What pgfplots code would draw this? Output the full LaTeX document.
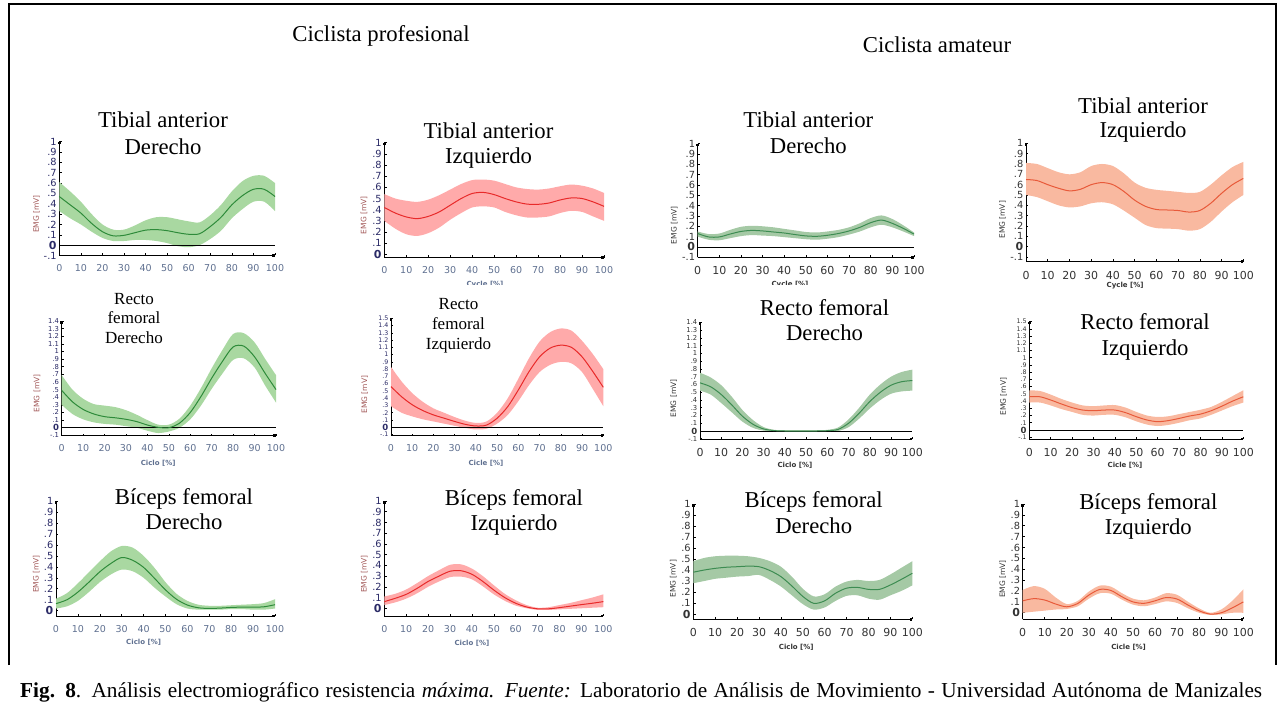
\documentclass[border=0pt]{standalone}
\usepackage{fontspec}
\setmainfont{Liberation Serif}
\newfontfamily\tickfont{DejaVu Sans}
\usepackage{pgfplots}
\pgfplotsset{compat=1.18}
\usepackage{pgfplotstable}
\usepgfplotslibrary{fillbetween}
\usetikzlibrary{arrows.meta}

\definecolor{gband}{HTML}{A9D8A1}
\definecolor{gline}{HTML}{2E8B3A}
\definecolor{agband}{HTML}{A5C9A5}
\definecolor{agline}{HTML}{3D8C52}
\definecolor{rband}{HTML}{FFAAAA}
\definecolor{rline}{HTML}{E82A2A}
\definecolor{arband}{HTML}{F9B9A0}
\definecolor{arline}{HTML}{E85A3A}
\definecolor{proxt}{HTML}{5F7090}
\definecolor{proyt}{HTML}{2A2A66}
\definecolor{proyl}{HTML}{A05555}
\definecolor{amat}{HTML}{333333}

\newcommand\zero{{\fontsize{11}{11}\selectfont\bfseries 0}}
\newcommand\zeros{{\fontsize{8.5}{8.5}\selectfont\bfseries 0}}
\newcommand\ttl{\fontsize{22.7}{26}\selectfont}
\newcommand\ttls{\fontsize{17}{20}\selectfont}

\pgfplotsset{
  emg/.style={
    scale only axis, anchor=south west, clip=false,
    axis lines=left,
    axis line style={line width=0.9pt,-{Square[length=2.6pt,width=2.6pt]}},
    xmin=0, xmax=100, xtick={0,10,...,100},
    tick align=inside, major tick length=2.2pt,
    every tick/.style={black, line width=0.6pt},
    /pgf/number format/assume math mode=true,
    xticklabel style={anchor=north, inner sep=0pt, yshift=-9pt},
    yticklabel style={anchor=east, inner sep=0pt, xshift=-2.5pt},
  },
  pro/.style={emg,
    xticklabel style={font=\tickfont\fontsize{9.5}{9.5}\selectfont, text=proxt},
    yticklabel style={font=\tickfont\fontsize{9.8}{9.8}\selectfont, text=proyt}},
  ama/.style={emg,
    xticklabel style={font=\tickfont\fontsize{11}{11}\selectfont, text=amat},
    yticklabel style={font=\tickfont\fontsize{9.8}{9.8}\selectfont, text=amat}},
  yA/.style={ytick={-0.1,0,0.1,0.2,0.3,0.4,0.5,0.6,0.7,0.8,0.9,1},
    yticklabels={-.1,\zero,.1,.2,.3,.4,.5,.6,.7,.8,.9,1}},
  yB/.style={ytick={0,0.1,0.2,0.3,0.4,0.5,0.6,0.7,0.8,0.9,1},
    yticklabels={\zero,.1,.2,.3,.4,.5,.6,.7,.8,.9,1}},
  % dense scales of the rectus femoris panels: smaller labels
  yC/.style={ytick={-0.1,0,0.1,0.2,0.3,0.4,0.5,0.6,0.7,0.8,0.9,1,1.1,1.2,1.3,1.4},
    yticklabels={-.1,\zeros,.1,.2,.3,.4,.5,.6,.7,.8,.9,1,1.1,1.2,1.3,1.4},
    yticklabel style={font=\tickfont\fontsize{6.8}{6.8}\selectfont}},
  yD/.style={ytick={-0.1,0,0.1,0.2,0.3,0.4,0.5,0.6,0.7,0.8,0.9,1,1.1,1.2,1.3,1.4,1.5},
    yticklabels={-.1,\zeros,.1,.2,.3,.4,.5,.6,.7,.8,.9,1,1.1,1.2,1.3,1.4,1.5},
    yticklabel style={font=\tickfont\fontsize{6.3}{6.3}\selectfont}},
}

% band (lo..hi) and mean curve of one muscle
\newcommand\emgband[3]{%
  \addplot[draw=none, smooth, name path=#1hi] table[x=x,y=hi]{#2};
  \addplot[draw=none, smooth, name path=#1lo] table[x=x,y=lo]{#2};
  \addplot[fill=#3, draw=none] fill between[of=#1hi and #1lo];}
\newcommand\emgmean[2]{\addplot[#2, line width=1pt, smooth] table[x=x,y=m]{#1};}
\newcommand\zeroline{\draw[black, line width=0.8pt] (axis cs:0,0) -- (axis cs:100,0);}
\newcommand\prolabel[2]{\node[rotate=90, font=\tickfont\fontsize{7.5}{7.5}\selectfont, text=proyl] at (axis cs:#1,#2) {EMG [mV]};}
\newcommand\amalabel[2]{\node[rotate=90, font=\tickfont\fontsize{7.5}{7.5}\selectfont, text=amat] at (axis cs:#1,#2) {EMG [mV]};}
\newcommand\proxl[3]{\node[font=\tickfont\bfseries\fontsize{7}{7}\selectfont, text=proxt] at (axis cs:#1,#2) {#3};}
\newcommand\amaxl[3]{\node[font=\tickfont\bfseries\fontsize{7}{7}\selectfont, text=amat] at (axis cs:#1,#2) {#3};}

% ---------- professional cyclist ----------
\pgfplotstableread{
x m lo hi
0 0.47 0.33 0.61
5 0.39 0.26 0.52
10 0.31 0.20 0.42
15 0.21 0.13 0.30
20 0.13 0.07 0.20
25 0.09 0.04 0.15
30 0.095 0.04 0.15
35 0.12 0.05 0.19
40 0.145 0.05 0.24
45 0.15 0.04 0.27
50 0.14 0.02 0.27
55 0.12 -0.01 0.25
60 0.105 -0.02 0.23
65 0.11 0.0 0.22
70 0.18 0.06 0.29
75 0.27 0.14 0.39
80 0.39 0.26 0.52
85 0.48 0.35 0.62
90 0.54 0.42 0.67
95 0.54 0.42 0.67
100 0.47 0.33 0.60
}\tPa
\pgfplotstableread{
x m lo hi
0 0.42 0.30 0.54
5 0.37 0.23 0.50
10 0.335 0.18 0.48
15 0.32 0.165 0.47
20 0.34 0.19 0.49
25 0.38 0.24 0.53
30 0.44 0.31 0.58
35 0.50 0.37 0.63
40 0.545 0.42 0.665
45 0.555 0.43 0.67
50 0.535 0.42 0.66
55 0.50 0.38 0.63
60 0.47 0.35 0.60
65 0.45 0.33 0.585
70 0.448 0.33 0.58
75 0.46 0.34 0.59
80 0.487 0.37 0.61
85 0.505 0.39 0.625
90 0.50 0.38 0.615
95 0.47 0.34 0.59
100 0.43 0.30 0.55
}\tPb
\pgfplotstableread{
x m lo hi
0 0.49 0.30 0.69
5 0.34 0.18 0.50
10 0.24 0.11 0.38
15 0.18 0.07 0.31
20 0.145 0.05 0.29
25 0.13 0.04 0.27
30 0.11 0.02 0.23
35 0.08 0.0 0.17
40 0.035 -0.04 0.10
45 0.005 -0.07 0.04
50 0.0 -0.05 0.04
55 0.06 0.0 0.12
60 0.20 0.11 0.29
65 0.41 0.29 0.52
70 0.65 0.51 0.78
75 0.87 0.71 1.02
80 1.06 0.89 1.23
85 1.07 0.91 1.24
90 0.93 0.79 1.12
95 0.71 0.55 0.90
100 0.50 0.33 0.69
}\tPc
\pgfplotstableread{
x m lo hi
0 0.56 0.29 0.83
5 0.42 0.20 0.63
10 0.31 0.15 0.47
15 0.23 0.11 0.35
20 0.17 0.08 0.26
25 0.125 0.05 0.20
30 0.08 0.02 0.14
35 0.04 -0.01 0.09
40 0.018 -0.03 0.06
45 0.03 -0.02 0.08
50 0.125 0.05 0.20
55 0.285 0.17 0.40
60 0.515 0.36 0.67
65 0.765 0.58 0.95
70 0.97 0.76 1.18
75 1.09 0.86 1.31
80 1.13 0.90 1.36
85 1.10 0.88 1.33
90 0.97 0.76 1.19
95 0.77 0.53 1.01
100 0.55 0.29 0.80
}\tPd
\pgfplotstableread{
x m lo hi
0 0.065 0.02 0.11
5 0.10 0.04 0.16
10 0.17 0.09 0.25
15 0.26 0.17 0.35
20 0.355 0.26 0.45
25 0.43 0.33 0.54
30 0.485 0.375 0.59
35 0.46 0.36 0.575
40 0.395 0.30 0.50
45 0.295 0.21 0.39
50 0.19 0.13 0.26
55 0.105 0.06 0.155
60 0.052 0.02 0.09
65 0.027 0.01 0.055
70 0.021 0.01 0.045
75 0.024 0.01 0.045
80 0.03 0.015 0.05
85 0.033 0.015 0.055
90 0.033 0.01 0.06
95 0.036 0.01 0.07
100 0.055 0.02 0.105
}\tPe
\pgfplotstableread{
x m lo hi
0 0.062 0.03 0.11
5 0.093 0.055 0.135
10 0.13 0.09 0.175
15 0.186 0.14 0.235
20 0.25 0.20 0.30
25 0.30 0.25 0.355
30 0.345 0.29 0.405
35 0.35 0.295 0.41
40 0.317 0.27 0.37
45 0.25 0.205 0.30
50 0.17 0.13 0.215
55 0.10 0.07 0.135
60 0.047 0.025 0.075
65 0.012 0.0 0.03
70 -0.005 -0.015 0.005
75 -0.005 -0.015 0.01
80 0.006 -0.01 0.03
85 0.02 -0.005 0.05
90 0.034 0.0 0.075
95 0.047 0.005 0.10
100 0.062 0.01 0.13
}\tPf

% ---------- amateur cyclist ----------
\pgfplotstableread{
x m lo hi
0 0.13 0.10 0.15
5 0.097 0.07 0.125
10 0.097 0.065 0.13
15 0.125 0.085 0.165
20 0.15 0.105 0.195
25 0.16 0.115 0.205
30 0.155 0.11 0.20
35 0.145 0.105 0.19
40 0.135 0.095 0.175
45 0.12 0.085 0.16
50 0.107 0.075 0.145
55 0.103 0.07 0.14
60 0.113 0.08 0.15
65 0.13 0.095 0.165
70 0.155 0.12 0.19
75 0.19 0.15 0.23
80 0.235 0.19 0.28
85 0.26 0.215 0.305
90 0.228 0.19 0.27
95 0.18 0.15 0.21
100 0.125 0.105 0.14
}\tAa
\pgfplotstableread{
x m lo hi
0 0.65 0.50 0.81
5 0.64 0.48 0.80
10 0.60 0.44 0.76
15 0.565 0.40 0.72
20 0.54 0.38 0.70
25 0.555 0.39 0.72
30 0.60 0.42 0.78
35 0.62 0.43 0.80
40 0.60 0.41 0.78
45 0.535 0.35 0.71
50 0.45 0.28 0.62
55 0.39 0.21 0.57
60 0.36 0.18 0.55
65 0.355 0.175 0.54
70 0.35 0.17 0.53
75 0.335 0.155 0.52
80 0.35 0.17 0.53
85 0.42 0.24 0.60
90 0.516 0.34 0.69
95 0.60 0.43 0.77
100 0.66 0.50 0.82
}\tAb
\pgfplotstableread{
x m lo hi
0 0.62 0.52 0.75
5 0.57 0.47 0.69
10 0.47 0.36 0.59
15 0.335 0.24 0.44
20 0.19 0.12 0.27
25 0.086 0.04 0.14
30 0.026 0.005 0.05
35 0.005 -0.005 0.015
40 0.0 -0.01 0.01
45 0.0 -0.01 0.01
50 0.0 -0.01 0.01
55 0.0 -0.01 0.01
60 0.004 -0.006 0.015
65 0.02 0.0 0.045
70 0.10 0.05 0.15
75 0.23 0.16 0.30
80 0.38 0.29 0.47
85 0.50 0.40 0.60
90 0.59 0.48 0.70
95 0.635 0.51 0.76
100 0.65 0.52 0.79
}\tAc
\pgfplotstableread{
x m lo hi
0 0.46 0.38 0.55
5 0.46 0.38 0.54
10 0.415 0.34 0.49
15 0.36 0.29 0.43
20 0.31 0.25 0.38
25 0.276 0.21 0.34
30 0.267 0.20 0.33
35 0.276 0.21 0.34
40 0.276 0.21 0.345
45 0.24 0.175 0.31
50 0.184 0.12 0.25
55 0.138 0.075 0.20
60 0.115 0.055 0.18
65 0.13 0.07 0.19
70 0.16 0.10 0.22
75 0.194 0.135 0.25
80 0.22 0.16 0.28
85 0.267 0.21 0.32
90 0.33 0.27 0.39
95 0.40 0.33 0.47
100 0.46 0.38 0.55
}\tAd
\pgfplotstableread{
x m lo hi
0 0.38 0.28 0.48
5 0.40 0.30 0.51
10 0.415 0.32 0.525
15 0.425 0.33 0.53
20 0.43 0.34 0.53
25 0.435 0.345 0.525
30 0.43 0.355 0.51
35 0.395 0.31 0.48
40 0.34 0.25 0.43
45 0.255 0.17 0.34
50 0.16 0.09 0.23
55 0.097 0.04 0.16
60 0.12 0.06 0.18
65 0.19 0.12 0.25
70 0.235 0.165 0.295
75 0.242 0.17 0.31
80 0.224 0.14 0.30
85 0.224 0.13 0.31
90 0.264 0.17 0.36
95 0.315 0.21 0.42
100 0.37 0.26 0.48
}\tAe
\pgfplotstableread{
x m lo hi
0 0.11 0.0 0.21
5 0.13 0.01 0.245
10 0.117 0.02 0.22
15 0.08 0.03 0.14
20 0.055 0.035 0.08
25 0.086 0.06 0.11
30 0.163 0.13 0.195
35 0.215 0.18 0.25
40 0.205 0.175 0.24
45 0.147 0.12 0.18
50 0.10 0.075 0.13
55 0.087 0.06 0.115
60 0.11 0.08 0.14
65 0.14 0.105 0.18
70 0.126 0.09 0.165
75 0.07 0.04 0.10
80 0.018 0.0 0.04
85 -0.012 -0.02 0.0
90 0.0 -0.015 0.03
95 0.045 0.0 0.11
100 0.10 0.0 0.215
}\tAf

\begin{document}
\begin{tikzpicture}
% page extent
\path (0pt,0pt) rectangle (1279pt,705pt);
% frame around the panels (open at the bottom)
\draw[line width=1.6pt] (9pt,40pt) -- (9pt,701pt) -- (1276pt,701pt) -- (1276pt,40pt);

% column headers
\node[anchor=base, font=\ttl] at (381pt,663pt) {Ciclista profesional};
\node[anchor=base, font=\ttl] at (937pt,652pt) {Ciclista amateur};

% ===== row 1: Tibial anterior =====
\begin{axis}[pro, yA, at={(59.3pt,449.5pt)}, width=215.7pt, height=113.8pt, ymin=-0.1, ymax=1]
  \emgband{pa}{\tPa}{gband}
  \zeroline
  \emgmean{\tPa}{gline}
  \prolabel{-10.6}{0.30}
\end{axis}
\begin{axis}[pro, yB, at={(384.3pt,447.3pt)}, width=219.7pt, height=115pt, ymin=-0.03, ymax=1]
  \emgband{pb}{\tPb}{rband}
  \emgmean{\tPb}{rline}
  \prolabel{-9.2}{0.35}
\end{axis}
\begin{axis}[ama, yA, at={(697.7pt,447.7pt)}, width=216.3pt, height=113.7pt, ymin=-0.1, ymax=1]
  \emgband{aa}{\tAa}{agband}
  \zeroline
  \emgmean{\tAa}{agline}
  \amalabel{-10.8}{0.21}
\end{axis}
\begin{axis}[ama, yA, at={(1026pt,443.3pt)}, width=217.3pt, height=118.4pt, ymin=-0.145, ymax=1]
  \emgband{ab}{\tAb}{arband}
  \emgmean{\tAb}{arline}
  \amalabel{-10.8}{0.26}
  \amaxl{45.6}{-0.38}{Cycle [\%]}
\end{axis}

% ===== row 2: Recto femoral =====
\begin{axis}[pro, yC, at={(61.7pt,269.3pt)}, width=214.3pt, height=114.7pt, ymin=-0.105, ymax=1.4]
  \emgband{pc}{\tPc}{gband}
  \zeroline
  \emgmean{\tPc}{gline}
  \prolabel{-11.5}{0.45}
  \proxl{45}{-0.467}{Ciclo [\%]}
\end{axis}
\begin{axis}[pro, yD, at={(391pt,269.3pt)}, width=212.3pt, height=117.4pt, ymin=-0.116, ymax=1.5]
  \emgband{pd}{\tPd}{rband}
  \zeroline
  \emgmean{\tPd}{rline}
  \prolabel{-12.4}{0.45}
  \proxl{44.7}{-0.496}{Cicle [\%]}
\end{axis}
\begin{axis}[ama, yC, at={(700pt,266pt)}, width=212.3pt, height=116.7pt, ymin=-0.103, ymax=1.4]
  \emgband{ac}{\tAc}{agband}
  \zeroline
  \emgmean{\tAc}{agline}
  \amalabel{-12.4}{0.42}
  \amaxl{44.7}{-0.447}{Ciclo [\%]}
\end{axis}
\begin{axis}[ama, yD, at={(1029.3pt,266pt)}, width=214pt, height=117.3pt, ymin=-0.125, ymax=1.5]
  \emgband{ad}{\tAd}{arband}
  \zeroline
  \emgmean{\tAd}{arline}
  \amalabel{-12}{0.46}
  \amaxl{44.7}{-0.485}{Cicle [\%]}
\end{axis}

% ===== row 3: Biceps femoral =====
\begin{axis}[pro, yB, at={(56pt,89pt)}, width=219pt, height=115pt, ymin=-0.048, ymax=1]
  \emgband{pe}{\tPe}{gband}
  \emgmean{\tPe}{gline}
  \prolabel{-9}{0.335}
  \proxl{40}{-0.29}{Ciclo [\%]}
\end{axis}
\begin{axis}[pro, yB, at={(384.3pt,89pt)}, width=219pt, height=115pt, ymin=-0.072, ymax=1]
  \emgband{pf}{\tPf}{rband}
  \emgmean{\tPf}{rline}
  \prolabel{-9.2}{0.32}
  \proxl{40}{-0.324}{Ciclo [\%]}
\end{axis}
\begin{axis}[ama, yB, at={(693.3pt,85.7pt)}, width=219pt, height=115.3pt, ymin=-0.048, ymax=1]
  \emgband{ae}{\tAe}{agband}
  \emgmean{\tAe}{agline}
  \amalabel{-9.2}{0.32}
  \amaxl{47}{-0.30}{Ciclo [\%]}
\end{axis}
\begin{axis}[ama, yB, at={(1022.7pt,85.7pt)}, width=220.6pt, height=115.3pt, ymin=-0.06, ymax=1]
  \emgband{af}{\tAf}{arband}
  \emgmean{\tAf}{arline}
  \amalabel{-9}{0.31}
  \amaxl{48}{-0.315}{Cicle [\%]}
\end{axis}

% axis captions cut off at the lower edge of the first row
\begin{scope}
  \clip (380pt,420.5pt) rectangle (930pt,430pt);
  \node[font=\tickfont\bfseries\fontsize{7}{7}\selectfont, text=proxt] at (485pt,420.5pt) {Cycle [\%]};
  \node[font=\tickfont\bfseries\fontsize{7}{7}\selectfont, text=amat] at (790pt,420.5pt) {Cycle [\%]};
\end{scope}

% panel titles
\node[anchor=base, font=\ttl] at (163pt,577.3pt) {Tibial anterior};
\node[anchor=base, font=\ttl] at (163pt,550.7pt) {Derecho};
\node[anchor=base, font=\ttl] at (488.5pt,566.7pt) {Tibial anterior};
\node[anchor=base, font=\ttl] at (488.5pt,541pt) {Izquierdo};
\node[anchor=base, font=\ttl] at (808.3pt,577.3pt) {Tibial anterior};
\node[anchor=base, font=\ttl] at (808.3pt,551.7pt) {Derecho};
\node[anchor=base, font=\ttl] at (1143pt,591.7pt) {Tibial anterior};
\node[anchor=base, font=\ttl] at (1143pt,567.3pt) {Izquierdo};

\node[anchor=base, font=\ttls] at (134pt,400.7pt) {Recto};
\node[anchor=base, font=\ttls] at (134pt,381pt) {femoral};
\node[anchor=base, font=\ttls] at (134pt,361.7pt) {Derecho};
\node[anchor=base, font=\ttls] at (458.5pt,395pt) {Recto};
\node[anchor=base, font=\ttls] at (458.5pt,375pt) {femoral};
\node[anchor=base, font=\ttls] at (458.5pt,355.7pt) {Izquierdo};
\node[anchor=base, font=\ttl] at (824.5pt,389.3pt) {Recto femoral};
\node[anchor=base, font=\ttl] at (824.5pt,364.3pt) {Derecho};
\node[anchor=base, font=\ttl] at (1145pt,375pt) {Recto femoral};
\node[anchor=base, font=\ttl] at (1145pt,349.3pt) {Izquierdo};

\node[anchor=base, font=\ttl] at (184pt,201pt) {Bíceps femoral};
\node[anchor=base, font=\ttl] at (184pt,176pt) {Derecho};
\node[anchor=base, font=\ttl] at (514pt,200pt) {Bíceps femoral};
\node[anchor=base, font=\ttl] at (514pt,175pt) {Izquierdo};
\node[anchor=base, font=\ttl] at (813.7pt,197.7pt) {Bíceps femoral};
\node[anchor=base, font=\ttl] at (813.7pt,171.7pt) {Derecho};
\node[anchor=base, font=\ttl] at (1148.3pt,196pt) {Bíceps femoral};
\node[anchor=base, font=\ttl] at (1148.3pt,171pt) {Izquierdo};

% figure caption, spread over the width of the frame
\node[anchor=base west, inner sep=0pt, font=\fontsize{21.3}{23}\selectfont] at (20pt,7.7pt)
  {\makebox[1242pt][s]{\textbf{Fig. 8}. Análisis electromiográfico resistencia \textit{máxima. Fuente:} Laboratorio de Análisis de Movimiento - Universidad Autónoma de Manizales}};
\end{tikzpicture}
\end{document}
